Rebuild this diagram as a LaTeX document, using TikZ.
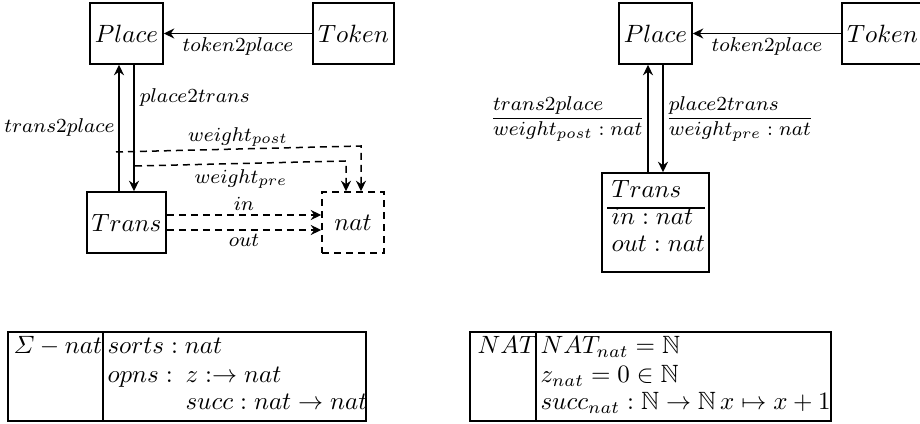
\documentclass[tikz,border=0pt]{standalone}
\usepackage{amsmath,amssymb}
\usetikzlibrary{arrows.meta}
\begin{document}
\begin{tikzpicture}[x=0.4pt,y=-0.4pt,
  box/.style={draw, line width=0.6pt, minimum height=24.4pt, inner sep=0pt},
  dbox/.style={box, dash pattern=on 2.8pt off 2pt},
  lbl/.style={font=\footnotesize, inner sep=1.5pt},
  arr/.style={-{Stealth[length=4.2pt,width=4pt]}, line width=0.6pt},
  darr/.style={arr, dash pattern=on 2.8pt off 2pt},
  txt/.style={anchor=base west, inner sep=0pt},
  frame/.style={line width=0.6pt}]
\useasboundingbox (0,0) rectangle (920,424);
\clip (0,0) rectangle (920,424);

% ---- left graph: sorts and operations as separate nodes ----
\node[box, minimum width=29.2pt] (place) at (126.5,33.5) {$Place$};
\node[box, minimum width=32.4pt] (token) at (353.5,33.5) {$Token$};
\node[box, minimum width=31.6pt] (trans) at (126.5,222.5) {$Trans$};
\node[dbox, minimum width=24.8pt] (nat) at (353,222.5) {$nat$};

\draw[arr] (token.west) -- node[lbl, below] {$token2place$} (place.east);
\draw[arr] ([xshift=-3pt]trans.north) -- node[lbl, left] {$trans2place$} ([xshift=-3pt]place.south);
\draw[arr] ([xshift=3pt]place.south) -- node[lbl, right, pos=0.26, inner sep=2pt] {$place2trans$} ([xshift=3pt]trans.north);

\coordinate (wps) at (116,152);
\coordinate (wpc) at (361,146);
\coordinate (wrs) at (135,166);
\coordinate (wrc) at (346,161);
\draw[darr] (wps) -- (wpc) -- (wpc |- nat.north);
\draw[darr] (wrs) -- (wrc) -- (wrc |- nat.north);
\node[lbl] (wpostlbl) at (238,137) {$weight_{post}$};
\node[lbl] (wprelbl) at (241,179) {$weight_{pre}$};

\draw[darr] ([yshift=3pt]trans.east) -- node[lbl, above] {$in$} ([yshift=3pt]trans.east -| nat.west);
\draw[darr] ([yshift=-3pt]trans.east) -- node[lbl, below] {$out$} ([yshift=-3pt]trans.east -| nat.west);

% ---- right graph: attributes folded into the nodes ----
\node[box, minimum width=29.2pt] (place2) at (655.5,33.5) {$Place$};
\node[box, minimum width=32.4pt] (token2) at (882.5,33.5) {$Token$};
\node[box, minimum width=42.8pt, minimum height=39.6pt] (trans2) at (655.5,222.5) {};
\node[txt] (t2name) at (611,198) {$Trans$};
\draw[line width=0.5pt] (607,208) -- (705,208);
\node[txt] (t2in) at (611,225) {$in : nat$};
\node[txt] (t2out) at (611,252) {$out : nat$};

\draw[arr] (token2.west) -- node[lbl, below] {$token2place$} (place2.east);
\draw[arr] ([xshift=-3pt]trans2.north) -- node[lbl, left, inner sep=2pt] {$\begin{array}{@{}l@{}} trans2place\\\hline weight_{post} : nat\end{array}$} ([xshift=-3pt]place2.south);
\draw[arr] ([xshift=3pt]place2.south) -- node[lbl, right, inner sep=2pt] {$\begin{array}{@{}l@{}} place2trans\\\hline weight_{pre} : nat\end{array}$} ([xshift=3pt]trans2.north);

% ---- signature table ----
\draw[frame] (8,332) rectangle (366,421);
\draw[frame] (103,332) -- (103,421);
\node[txt] (sig) at (13,354) {$\varSigma - nat$};
\node[txt] (sorts) at (107,354) {$sorts : nat$};
\node[txt] (opns) at (107,383) {$opns :$};
\node[txt] (zop) at (185,383) {$z :\rightarrow nat$};
\node[txt] (succop) at (185,410) {$succ : nat \rightarrow nat$};

% ---- algebra table ----
\draw[frame] (470,332) rectangle (831,421);
\draw[frame] (536,332) -- (536,421);
\node[txt] (alg) at (477,354) {$NAT$};
\node[txt] (carrier) at (540,354) {$NAT_{nat} = \mathbb{N}$};
\node[txt] (zero) at (540,383) {$z_{nat} = 0 \in \mathbb{N}$};
\node[txt] (succ) at (540,410) {$succ_{nat} : \mathbb{N} \rightarrow \mathbb{N}\, x \mapsto x + 1$};
\end{tikzpicture}
\end{document}
